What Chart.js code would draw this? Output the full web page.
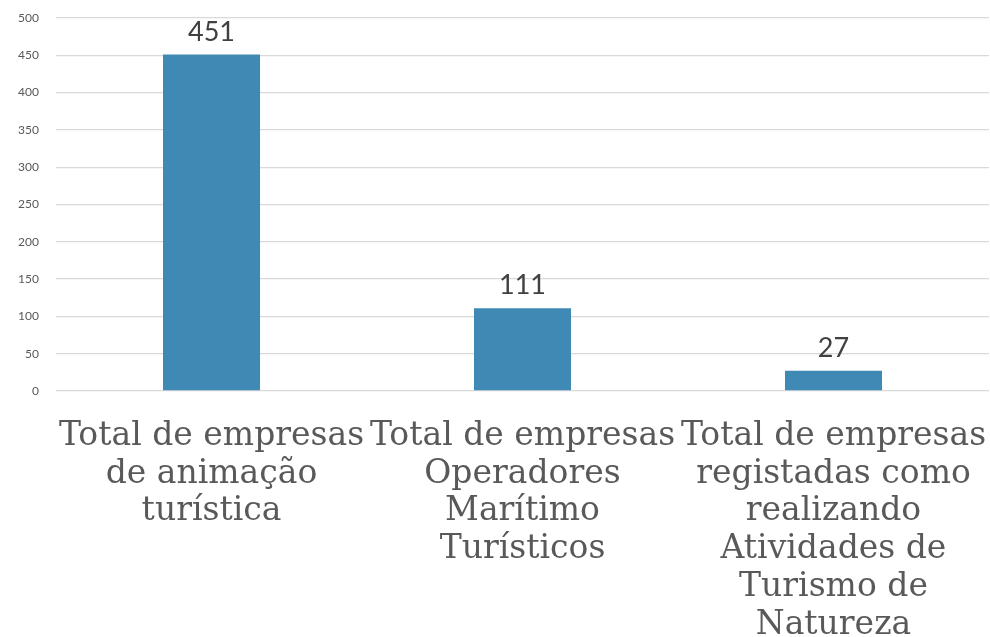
<!DOCTYPE html>
<html>
<head>
<meta charset="utf-8">
<script src="https://cdn.jsdelivr.net/npm/chart.js@4/dist/chart.umd.min.js"></script>
<style>
  html, body { margin: 0; padding: 0; background: #fff; }
  #wrap { width: 990px; height: 637px; }
</style>
</head>
<body>
<div id="wrap"><canvas id="chart"></canvas></div>
<script>
const categories = [
  ['Total de empresas', 'de animação', 'turística'],
  ['Total de empresas', 'Operadores', 'Marítimo', 'Turísticos'],
  ['Total de empresas', 'registadas como', 'realizando', 'Atividades de', 'Turismo de', 'Natureza']
];
const values = [451, 111, 27];
const yTicks = [0, 50, 100, 150, 200, 250, 300, 350, 400, 450, 500];

// draws the number above each bar
const barValues = {
  id: 'barValues',
  afterDatasetsDraw(chart) {
    const ctx = chart.ctx;
    const meta = chart.getDatasetMeta(0);
    ctx.save();
    ctx.font = '27px Lato';
    ctx.fillStyle = '#404040';
    ctx.textAlign = 'center';
    ctx.textBaseline = 'alphabetic';
    meta.data.forEach((bar, i) => {
      ctx.fillText(String(values[i]), bar.x, bar.y - 14);
    });
    ctx.restore();
  }
};

new Chart(document.getElementById('chart'), {
  type: 'bar',
  data: {
    labels: categories,
    datasets: [{
      data: values,
      backgroundColor: '#3f89b5',
      barPercentage: 0.312,
      categoryPercentage: 1
    }]
  },
  options: {
    responsive: true,
    maintainAspectRatio: false,
    animation: false,
    layout: { padding: { top: 18, right: 1, left: 0, bottom: 0 } },
    plugins: {
      legend: { display: false },
      tooltip: { enabled: false }
    },
    scales: {
      x: {
        grid: { display: false, drawTicks: false },
        border: { display: false },
        ticks: {
          autoSkip: false,
          maxRotation: 0,
          minRotation: 0,
          padding: 26,
          color: '#595959',
          font: { family: 'DejaVu Serif', size: 33, lineHeight: 1.15 }
        },
        afterFit(scale) {
          scale.height = 246;
          scale.paddingLeft = 0;
          scale.paddingRight = 0;
        }
      },
      y: {
        min: 0,
        max: 500,
        afterBuildTicks(scale) { scale.ticks = yTicks.map(v => ({ value: v })); },
        grid: { color: '#d9d9d9', lineWidth: 1.3, drawTicks: false },
        border: { display: false },
        ticks: {
          padding: 17,
          color: '#595959',
          font: { family: 'Lato', size: 12 }
        },
        afterFit(scale) {
          scale.width = 56;
          scale.paddingTop = 0;
          scale.paddingBottom = 0;
        }
      }
    }
  },
  plugins: [barValues]
});
</script>
</body>
</html>
